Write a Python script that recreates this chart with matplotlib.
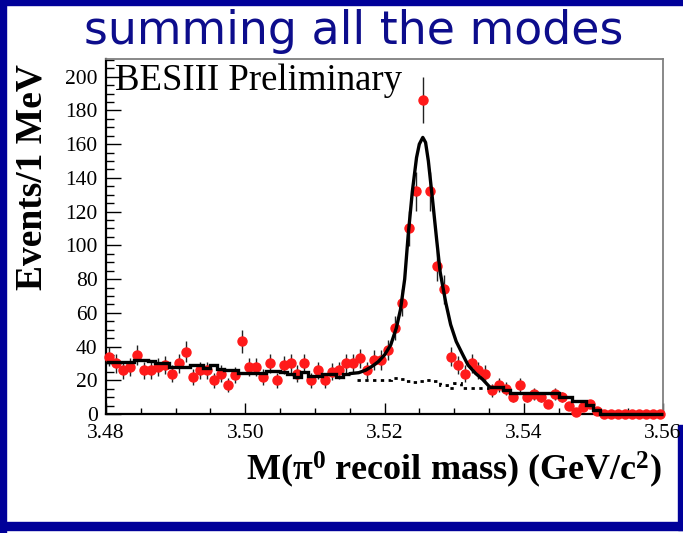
import numpy as np
import matplotlib
matplotlib.use("Agg")
import matplotlib.pyplot as plt
from matplotlib.patches import Rectangle
from matplotlib.ticker import MultipleLocator, FixedLocator

plt.rcParams['mathtext.fontset'] = 'custom'
plt.rcParams['mathtext.rm'] = 'Liberation Serif'
plt.rcParams['mathtext.bf'] = 'Liberation Serif:bold'
plt.rcParams['mathtext.it'] = 'Liberation Serif:italic'

# ---------------- data ----------------
bin_lo = 3.480
bin_width = 0.001
counts = [34, 30, 26, 28, 35, 26, 26, 28, 29, 24,
          30, 37, 22, 26, 26, 20, 24, 17, 23, 43,
          28, 28, 22, 30, 20, 29, 30, 24, 30, 20,
          26, 20, 25, 26, 30, 30, 33, 26, 32, 32,
          38, 51, 66, 110, 132, 186, 132, 88, 74, 34,
          29, 24, 30, 26, 24, 14, 17, 15, 10, 17,
          10, 12, 10, 6, 12, 10, 5, 1, 4, 6,
          2, 0, 0, 0, 0, 0, 0, 0, 0, 0]

# total fit, step part left of the peak (bins 0..34)
fit_left = [31, 31, 31, 31, 32, 32, 31.5, 30, 30, 28,
            28, 28, 29, 29, 27.5, 29, 26.5, 26, 26, 24.5,
            24.5, 24.5, 24.5, 25.5, 25.5, 25, 24, 22, 25, 22.5,
            22.5, 24, 24, 22, 24]
# total fit, smooth peak part
peak_mass = [3.5151, 3.5163, 3.5173, 3.5183, 3.5191, 3.5200, 3.5209, 3.5217,
             3.5223, 3.5229, 3.5234, 3.5240, 3.5246, 3.5250, 3.5255, 3.5259,
             3.5263, 3.5269, 3.5275, 3.5280, 3.5288, 3.5295, 3.5303, 3.5312,
             3.5320, 3.5331, 3.5341, 3.5350]
peak_fit = [24, 24.5, 26, 28.5, 31, 35, 41, 51,
            62, 80, 106, 132, 152, 160, 164, 161,
            150, 127, 103, 84, 66, 53, 43, 35.5,
            29, 24, 20.5, 16.5]
# total fit, step part right of the peak (bins 55..79)
fit_right = [16, 16, 14, 12.6, 12.6, 12.6, 12.6, 12.6, 12.2, 12.2,
             9.8, 9.8, 7.9, 7.9, 5.3, 2.4, 0, 0, 0, 0,
             0, 0, 0, 0, 0]
# background component under the peak (bins 36..54)
bkg_under = [20, 20, 20, 20, 20, 21.5, 21, 19.5, 19, 19.5,
             20, 19.5, 17, 15.5, 18.5, 15.5, 15.5, 15.5, 15.5]

x_ticks = [3.48, 3.50, 3.52, 3.54, 3.56]
x_ticklabels = ['3.48', '3.50', '3.52', '3.54', '3.56']
y_ticks = [0, 20, 40, 60, 80, 100, 120, 140, 160, 180, 200]

# ---------------- figure ----------------
W, H = 683, 533
fig = plt.figure(figsize=(W / 100, H / 100), dpi=100)
ax = fig.add_axes([106 / W, (H - 414) / H, (663 - 106) / W, (414 - 59) / H])

n = len(counts)
edges = bin_lo + bin_width * np.arange(n + 1)
centers = 0.5 * (edges[:-1] + edges[1:])
cnt = np.array(counts, dtype=float)
err = np.sqrt(cnt)

ax.errorbar(centers, cnt, yerr=err, fmt='o', color='#ff1a1a', ms=6.5,
            mec='#ff1a1a', ecolor='#222222', elinewidth=1.0, capsize=0,
            clip_on=False, zorder=3)

lw = 2.4
ax.stairs(fit_left, edges[:len(fit_left) + 1], color='black', lw=lw,
          baseline=None, zorder=4)
ax.plot(peak_mass, peak_fit, color='black', lw=lw, solid_joinstyle='round', zorder=4)
ax.stairs(fit_right, edges[55:55 + len(fit_right) + 1], color='black', lw=lw,
          baseline=None, zorder=4, clip_on=False)
ax.stairs(bkg_under, edges[36:36 + len(bkg_under) + 1], color='black', lw=2.0,
          linestyle=(0, (1.2, 1.6)), baseline=None, zorder=4)

ax.set_xlim(3.48, 3.56)
ax.set_ylim(0, 210.5)
ax.xaxis.set_major_locator(FixedLocator(x_ticks))
ax.set_xticklabels(x_ticklabels)
ax.xaxis.set_minor_locator(MultipleLocator(0.005))
ax.yaxis.set_major_locator(FixedLocator(y_ticks))
ax.yaxis.set_minor_locator(MultipleLocator(5))

for side in ['left', 'bottom']:
    ax.spines[side].set_linewidth(1.6)
    ax.spines[side].set_color('black')
for side in ['top', 'right']:
    ax.spines[side].set_linewidth(1.3)
    ax.spines[side].set_color('#7f7f7f')

ax.tick_params(axis='both', which='both', direction='in', top=False, right=False,
               width=1.0, color='black')
ax.tick_params(axis='y', which='major', length=11, pad=6)
ax.tick_params(axis='y', which='minor', length=6)
ax.tick_params(axis='x', which='major', length=8, pad=7)
ax.tick_params(axis='x', which='minor', length=4.5)
for lab in ax.get_xticklabels() + ax.get_yticklabels():
    lab.set_fontfamily('Liberation Serif')
    lab.set_fontsize(15.5)

ax.text(0.016, 0.94, 'BESIII Preliminary', transform=ax.transAxes,
        fontfamily='Liberation Serif', fontsize=26.5, ha='left', va='center')

fig.text(32 / W, 1 - 177 / H, 'Events/1 MeV', rotation=90, ha='center', va='center',
         fontfamily='Liberation Serif', fontweight='bold', fontsize=27)
fig.text(662 / W, 1 - 470 / H,
         r'M(π$^{\mathbf{0}}$ recoil mass) (GeV/c$^{\mathbf{2}}$)',
         ha='right', va='center', fontfamily='Liberation Serif',
         fontweight='bold', fontsize=26)

fig.text(354 / W, 1 - 31 / H, 'summing all the modes', ha='center', va='center',
         fontfamily='DejaVu Sans', fontsize=33, color='#0d0d8c')

# slide frame
blue = '#000099'
for (x0, y0, w, h) in [(0, 0, 6, H), (0, H - 4.5, W, 4.5), (0, 3, W, 8),
                       (W - 5, 3, 5, 105)]:
    fig.patches.append(Rectangle((x0 / W, y0 / H), w / W, h / H,
                                 transform=fig.transFigure, color=blue, zorder=-1))

fig.savefig('out.png', dpi=100)
